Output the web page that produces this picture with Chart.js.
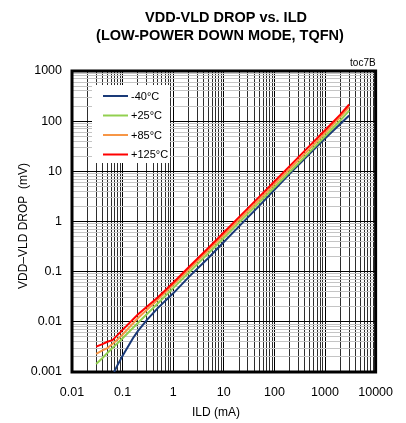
<!DOCTYPE html>
<html>
<head>
<meta charset="utf-8">
<script src="https://cdn.jsdelivr.net/npm/chart.js@4.4.1/dist/chart.umd.min.js"></script>
<style>
html,body{margin:0;padding:0;background:#fff;}
canvas{display:block;background:#fff;}
</style>
</head>
<body>
<canvas id="c" width="406" height="423"></canvas>
<script>
// ---- data ----
const chartTitle = ['VDD-VLD DROP vs. ILD', '(LOW-POWER DOWN MODE, TQFN)'];
const xAxisTitle = 'ILD (mA)';
const yAxisTitle = 'VDD\u2013VLD DROP  (mV)';
const tocLabel = 'toc7B';

const xTickValues = [0.01, 0.1, 1, 10, 100, 1000, 10000];
const xTickLabels = ['0.01', '0.1', '1', '10', '100', '1000', '10000'];
const yTickValues = [0.001, 0.01, 0.1, 1, 10, 100, 1000];
const yTickLabels = ['0.001', '0.01', '0.1', '1', '10', '100', '1000'];

const seriesLabels = ['-40\u00B0C', '+25\u00B0C', '+85\u00B0C', '+125\u00B0C'];
const seriesColors = ['#1a3a78', '#92d050', '#f79646', '#ff0000'];

// ILD (mA) sample points
const ildCold = [0.068, 0.08, 0.1, 0.13, 0.16, 0.2, 0.3, 0.5, 1, 2, 5, 10, 20, 50, 100, 200, 500, 1000, 2000, 3000];
const ildWarm = [0.03, 0.04, 0.05, 0.063, 0.08, 0.1, 0.2, 0.5, 1, 2, 5, 10, 20, 50, 100, 200, 500, 1000, 2000, 3000];

// VDD-VLD drop (mV)
const dropM40 = [0.001, 0.0014, 0.0021, 0.0033, 0.0047, 0.0065, 0.0108, 0.019, 0.037, 0.077, 0.19, 0.39, 0.80, 2.05, 4.3, 8.9, 22.5, 45, 88, 130];
const dropP25 = [0.00144, 0.0019, 0.0024, 0.0030, 0.0038, 0.0047, 0.0095, 0.0235, 0.047, 0.094, 0.235, 0.47, 0.95, 2.38, 4.8, 9.7, 24.5, 50, 103, 162];
const dropP85 = [0.0023, 0.0027, 0.0030, 0.0036, 0.0045, 0.0056, 0.0118, 0.028, 0.055, 0.108, 0.27, 0.54, 1.08, 2.72, 5.5, 11.1, 28.3, 58, 120, 190];
const dropP125 = [0.0032, 0.0036, 0.0040, 0.0043, 0.0055, 0.0069, 0.0140, 0.031, 0.060, 0.121, 0.30, 0.605, 1.22, 3.1, 6.25, 12.7, 32.5, 66, 135, 215];

// ---- helpers ----
const FONT = 'Arial, "Liberation Sans", sans-serif';
function decadeGrid(minExp, maxExp) {
  const v = [];
  for (let e = minExp; e < maxExp; e++) {
    for (let m = 1; m <= 9; m++) v.push(m * Math.pow(10, e));
  }
  v.push(Math.pow(10, maxExp));
  return v;
}
function isDecade(v) {
  const l = Math.log10(v);
  return Math.abs(l - Math.round(l)) < 1e-9;
}
function labelFor(v, vals, labels) {
  for (let i = 0; i < vals.length; i++) {
    if (Math.abs(Math.log10(v) - Math.log10(vals[i])) < 1e-6) return labels[i];
  }
  return '';
}
function pts(xs, ys) { return xs.map((x, i) => ({ x: x, y: ys[i] })); }

const xGrid = decadeGrid(-2, 4);
const yGrid = decadeGrid(-3, 3);

const seriesData = [pts(ildCold, dropM40), pts(ildWarm, dropP25), pts(ildWarm, dropP85), pts(ildWarm, dropP125)];

const datasets = seriesLabels.map((lab, i) => ({
  label: lab,
  data: seriesData[i],
  borderColor: seriesColors[i],
  backgroundColor: seriesColors[i],
  borderWidth: 2,
  pointRadius: 0,
  tension: 0,
  fill: false,
  order: seriesLabels.length - 1 - i
}));

const framePlugin = {
  id: 'frame',
  beforeDatasetsDraw(chart) {
    const a = chart.chartArea, c = chart.ctx;
    c.save();
    c.strokeStyle = '#000';
    c.lineWidth = 3;
    c.strokeRect(a.left, a.top, a.right - a.left, a.bottom - a.top);
    c.restore();
  }
};

const legendPlugin = {
  id: 'boxLegend',
  afterDatasetsDraw(chart) {
    const a = chart.chartArea, c = chart.ctx;
    const bx = a.left + 20, by = a.top + 14, bw = 78, bh = 78;
    c.save();
    c.fillStyle = '#fff';
    c.fillRect(bx, by, bw, bh);
    c.font = '11px ' + FONT;
    c.textBaseline = 'middle';
    c.textAlign = 'left';
    chart.data.datasets.forEach((ds, i) => {
      const y = by + 11 + i * 19.5;
      c.strokeStyle = ds.borderColor;
      c.lineWidth = 2;
      c.beginPath();
      c.moveTo(bx + 11, y);
      c.lineTo(bx + 36, y);
      c.stroke();
      c.fillStyle = '#000';
      c.fillText(ds.label, bx + 39, y + 0.5);
    });
    c.restore();
  }
};

const textPlugin = {
  id: 'texts',
  afterDraw(chart) {
    const a = chart.chartArea, c = chart.ctx;
    c.save();
    c.fillStyle = '#000';
    c.textAlign = 'center';
    c.textBaseline = 'middle';
    c.font = 'bold 14.5px ' + FONT;
    c.fillText(chartTitle[0], 226, 18);
    c.fillText(chartTitle[1], 220, 36);
    c.font = '10px ' + FONT;
    c.textAlign = 'right';
    c.fillText(tocLabel, a.right, 63);
    c.font = '12px ' + FONT;
    c.textAlign = 'center';
    c.fillText(xAxisTitle, 216, 413);
    c.translate(24, 226);
    c.rotate(-Math.PI / 2);
    c.fillText(yAxisTitle, 0, 0);
    c.restore();
  }
};

new Chart(document.getElementById('c').getContext('2d'), {
  type: 'line',
  data: { datasets: datasets },
  options: {
    responsive: false,
    animation: false,
    layout: { padding: { left: 10, top: 71, right: 24, bottom: 11 } },
    plugins: { legend: { display: false }, title: { display: false }, tooltip: { enabled: false } },
    scales: {
      x: {
        type: 'logarithmic',
        min: 0.01, max: 10000,
        afterBuildTicks: s => { s.ticks = xGrid.map(v => ({ value: v, major: isDecade(v) })); },
        afterFit: s => { s.height = 40; },
        border: { display: false },
        grid: {
          drawTicks: false,
          lineWidth: 1,
          color: ctx => (ctx.tick && isDecade(ctx.tick.value)) ? '#000' : '#2e2e2e'
        },
        ticks: {
          autoSkip: false, maxRotation: 0, minRotation: 0, padding: 13,
          color: '#000', font: { family: FONT, size: 12.5 },
          callback: v => labelFor(v, xTickValues, xTickLabels)
        }
      },
      y: {
        type: 'logarithmic',
        min: 0.001, max: 1000,
        afterBuildTicks: s => { s.ticks = yGrid.map(v => ({ value: v, major: isDecade(v) })); },
        afterFit: s => { s.width = 62; },
        border: { display: false },
        grid: {
          drawTicks: false,
          lineWidth: 1,
          color: ctx => (ctx.tick && isDecade(ctx.tick.value)) ? '#000' : '#c4c4c4'
        },
        ticks: {
          autoSkip: false, padding: 10,
          color: '#000', font: { family: FONT, size: 12.5 },
          callback: v => labelFor(v, yTickValues, yTickLabels)
        }
      }
    }
  },
  plugins: [framePlugin, legendPlugin, textPlugin]
});
</script>
</body>
</html>
